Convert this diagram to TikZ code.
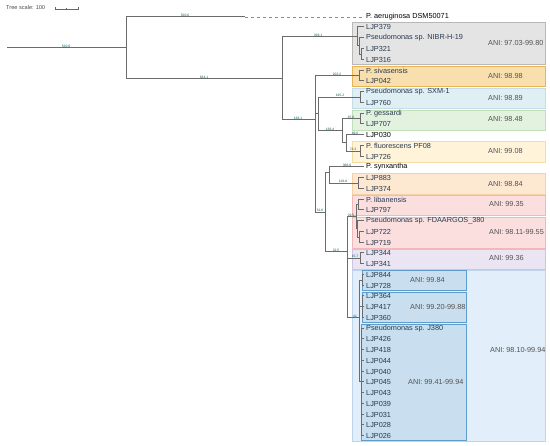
\documentclass[tikz,border=0pt]{standalone}
\usepackage{fontspec}
\setmainfont{Liberation Sans}
\begin{document}
\begin{tikzpicture}[x=1pt,y=-1pt,
  br/.style={draw=black!58,line width=1pt},
  leaf/.style={anchor=west,inner sep=0pt,font=\fontsize{7.3}{8}\selectfont,text=labblue},
  leafk/.style={anchor=west,inner sep=0pt,font=\fontsize{7.3}{8}\selectfont,text=black},
  ani/.style={anchor=west,inner sep=0pt,font=\fontsize{7.3}{8}\selectfont,text=black!68},
  blab/.style={anchor=south,inner sep=0.4pt,font=\fontsize{3.3}{4}\selectfont,text=teal!70!black},
  cbox/.style={line width=0.7pt}]
\definecolor{labblue}{HTML}{263A4E}
\definecolor{gfill}{HTML}{E4E4E4}\definecolor{gdraw}{HTML}{B8B8B8}
\definecolor{ofill}{HTML}{F9DFAE}\definecolor{odraw}{HTML}{E9B356}
\definecolor{sfill}{HTML}{E0EFF3}\definecolor{sdraw}{HTML}{C4DDE6}
\definecolor{efill}{HTML}{E3F1DF}\definecolor{edraw}{HTML}{C2DFBA}
\definecolor{yfill}{HTML}{FFF4D9}\definecolor{ydraw}{HTML}{F4DCA4}
\definecolor{pfill}{HTML}{FDE8D2}\definecolor{pdraw}{HTML}{F7CFA8}
\definecolor{rfill}{HTML}{FBDEDE}\definecolor{rdraw}{HTML}{F0B8B8}
\definecolor{vfill}{HTML}{EBE5F3}\definecolor{vdraw}{HTML}{CFC3E3}
\definecolor{bfill}{HTML}{E2EEF9}\definecolor{bdraw}{HTML}{BCD5ED}
\definecolor{ifill}{HTML}{C9DFF0}\definecolor{idraw}{HTML}{5D9CCB}
\useasboundingbox (0,0) rectangle (550,446);
\fill[white] (0,0) rectangle (550,446);
% clade boxes
\filldraw[cbox,fill=gfill,draw=gdraw] (352,22) rectangle (545,64);
\filldraw[cbox,fill=ofill,draw=odraw] (352,66) rectangle (545,86);
\filldraw[cbox,fill=sfill,draw=sdraw] (352,88) rectangle (545,108);
\filldraw[cbox,fill=efill,draw=edraw] (352,110) rectangle (545,130);
\filldraw[cbox,fill=yfill,draw=ydraw] (352,141) rectangle (545,162);
\filldraw[cbox,fill=pfill,draw=pdraw] (352,173) rectangle (545,194);
\filldraw[cbox,fill=rfill,draw=rdraw] (352,195) rectangle (545,215);
\filldraw[cbox,fill=rfill,draw=rdraw] (352,217) rectangle (545,248);
\filldraw[cbox,fill=vfill,draw=vdraw] (352,249) rectangle (545,269);
\filldraw[cbox,fill=bfill,draw=bdraw] (352,270) rectangle (545,441);
\filldraw[cbox,fill=ifill,draw=idraw] (362,270) rectangle (466,290);
\filldraw[cbox,fill=ifill,draw=idraw] (362,292) rectangle (466,322);
\filldraw[cbox,fill=ifill,draw=idraw] (361,324) rectangle (466,440);
% scale
\node[anchor=west,inner sep=0pt,font=\fontsize{5.6}{6}\selectfont,text=black!70] (scl) at (6,8) {Tree scale: 100};
\coordinate (sa) at (55,9); \coordinate (sb) at (78,9);
\draw[black!60,line width=0.5pt] (sa) -- (sb) (55,7.5) -- (55,10.5) (78,7.5) -- (78,10.5) (66.5,8.3) -- (66.5,9.7);
% leaves
\foreach \n/\y/\t/\s in {
 t1/17/{P. aeruginosa DSM50071}/leafk, t2/27/LJP379/leaf, t3/38/{Pseudomonas sp. NIBR-H-19}/leaf,
 t4/49/LJP321/leaf, t5/60/LJP316/leaf, t6/71/{P. sivasensis}/leaf, t7/81/LJP042/leaf,
 t8/92/{Pseudomonas sp. SXM-1}/leaf, t9/103/LJP760/leaf, t10/114/{P. gessardi}/leaf,
 t11/124/LJP707/leaf, t12/135/LJP030/leafk, t13/146/{P. fluorescens PF08}/leaf, t14/157/LJP726/leaf,
 t15/167/{P. synxantha}/leafk, t16/178/LJP883/leaf, t17/189/LJP374/leaf, t18/200/{P. libanensis}/leaf,
 t19/210/LJP797/leaf, t20/221/{Pseudomonas sp. FDAARGOS\_380}/leaf, t21/232/LJP722/leaf,
 t22/243/LJP719/leaf, t23/253/LJP344/leaf, t24/264/LJP341/leaf, t25/275/LJP844/leaf,
 t26/286/LJP728/leaf, t27/296/LJP364/leaf, t28/307/LJP417/leaf, t29/318/LJP360/leaf,
 t30/329/{Pseudomonas sp. J380}/leaf, t31/339/LJP426/leaf, t32/350/LJP418/leaf, t33/361/LJP044/leaf,
 t34/372/LJP040/leaf, t35/382/LJP045/leaf, t36/393/LJP043/leaf, t37/404/LJP039/leaf,
 t38/415/LJP031/leaf, t39/425/LJP028/leaf, t40/436/LJP026/leaf}
{ \coordinate (\n) at (364,\y); \node[\s] (l\n) at (366,\y) {\t}; }
% internal nodes
\coordinate (root) at (7,48);
\coordinate (n1) at (126,48);
\coordinate (am) at (245,17);
\coordinate (n2) at (282,79);
\coordinate (g1) at (357,37); \coordinate (g2) at (359,46); \coordinate (g3) at (361,54.5);
\coordinate (n3) at (315,120);
\coordinate (s1) at (359,76);
\coordinate (n4) at (318,114);
\coordinate (x1) at (360,97.5);
\coordinate (n5) at (342,131);
\coordinate (gs) at (360,119);
\coordinate (n6) at (346,143);
\coordinate (fl) at (360,151.5);
\coordinate (n8) at (325,212.5);
\coordinate (n9) at (329,173);
\coordinate (sx) at (358,183.5);
\coordinate (n10) at (347,252);
\coordinate (n11) at (356,217);
\coordinate (lb) at (358,205);
\coordinate (fd) at (357,229);
\coordinate (fd2) at (359,237.5);
\coordinate (lv) at (360,258.5);
\coordinate (bl) at (359,318);
\coordinate (ba) at (362,280.5);
\coordinate (bb) at (362,307);
\coordinate (bc) at (361,382);
% branches
\draw[br] (root) -- (n1);
\draw[br] (n1) |- (am);
\draw[black!45,line width=0.6pt,dashed] (am) -- (362,17);
\draw[br] (n1) |- (n2);
\foreach \p/\c in {n2/g1,g1/t2,g1/g2,g2/t3,g2/g3,g3/t4,g3/t5,
  n2/n3,n3/s1,s1/t6,s1/t7,n3/n4,n4/x1,x1/t8,x1/t9,n4/n5,n5/gs,gs/t10,gs/t11,
  n5/n6,n6/t12,n6/fl,fl/t13,fl/t14,n3/n8,n8/n9,n9/t15,n9/sx,sx/t16,sx/t17,
  n8/n10,n10/n11,n11/lb,lb/t18,lb/t19,n11/fd,fd/t20,fd/fd2,fd2/t21,fd2/t22,
  n10/lv,lv/t23,lv/t24,n10/bl,bl/ba,ba/t25,ba/t26,bl/bb,bb/t27,bb/t28,bb/t29,
  bl/bc,bc/t30,bc/t31,bc/t32,bc/t33,bc/t34,bc/t35,bc/t36,bc/t37,bc/t38,bc/t39,bc/t40}
{ \draw[br] (\p) |- (\c); }
% branch labels
\foreach \x/\y/\t in {66/48/520.6,185/17/520.6,204/79/634.1,318/37/339.1,298/120/136.1,
  337/76/202.2,340/97.5/195.2,330/131/136.4,351/119/87.0,355/135/89.6,353/151.5/73.3,
  347/167/366.0,343/183.5/126.8,320/212.5/51.6,336/252/32.5,351/217/29.5,355/258.5/15.7,355/318/41}
{ \node[blab] at (\x,\y) {\t}; }
% ANI labels
\node[ani] (a1) at (488,43) {ANI: 97.03-99.80};
\node[ani] (a2) at (488,76) {ANI: 98.98};
\node[ani] (a3) at (488,98) {ANI: 98.89};
\node[ani] (a4) at (488,119) {ANI: 98.48};
\node[ani] (a5) at (488,151) {ANI: 99.08};
\node[ani] (a6) at (488,184) {ANI: 98.84};
\node[ani] (a7) at (489,204) {ANI: 99.35};
\node[ani] (a8) at (489,232) {ANI: 98.11-99.55};
\node[ani] (a9) at (489,258) {ANI: 99.36};
\node[ani] (a10) at (490,350) {ANI: 98.10-99.94};
\node[ani] (a11) at (410,280) {ANI: 99.84};
\node[ani] (a12) at (410,307) {ANI: 99.20-99.88};
\node[ani] (a13) at (408,382) {ANI: 99.41-99.94};
\end{tikzpicture}
\end{document}
